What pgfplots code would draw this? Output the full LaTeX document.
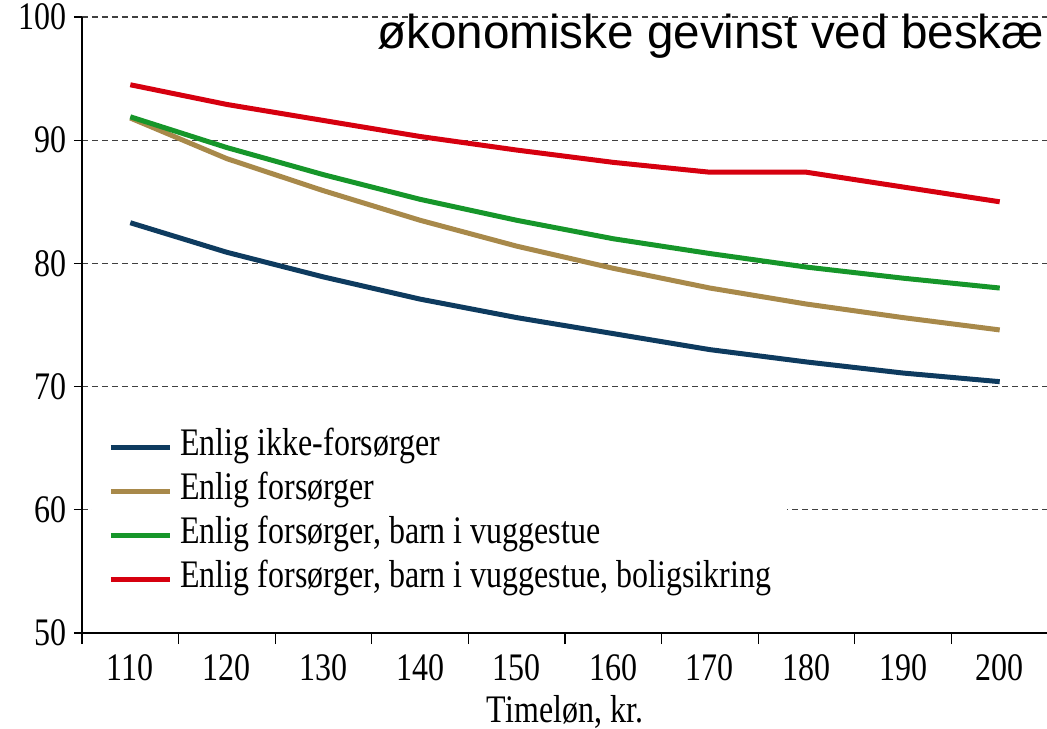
\documentclass[border=0pt]{standalone}
\usepackage{fontspec}
\setmainfont{Liberation Serif}[FakeStretch=0.82]
\newfontfamily\titlefont{Liberation Sans}
\usepackage{pgfplots}
\pgfplotsset{compat=1.18}
\definecolor{cNavy}{HTML}{0E3B5F}
\definecolor{cTan}{HTML}{A8894A}
\definecolor{cGreen}{HTML}{16962A}
\definecolor{cRed}{HTML}{D6000F}
\definecolor{cGrid}{HTML}{404040}
\begin{document}
\begin{tikzpicture}
\begin{axis}[
  at={(0pt,0pt)}, anchor=south west,
  scale only axis,
  width=483pt, height=308pt,
  xmin=-0.5, xmax=9.5,
  ymin=50, ymax=100,
  axis lines*=left,
  axis line style={black, line width=0.6pt},
  tick align=outside,
  xtick={0,...,9},
  xticklabels={110,120,130,140,150,160,170,180,190,200},
  major x tick style={draw=none},
  minor xtick={-0.5,0.5,...,9.5},
  minor tick length=5.5pt,
  minor x tick style={black, line width=0.6pt},
  ytick={50,60,...,100},
  major tick length=4pt,
  y tick style={black, line width=0.6pt},
  ymajorgrids,
  grid style={cGrid, dashed, dash pattern=on 3pt off 2pt, line width=0.6pt},
  /pgf/number format/assume math mode=true,
  ticklabel style={font=\fontsize{19.5}{23}\selectfont},
  xticklabel style={yshift=-3pt},
  xlabel={Timeløn, kr.},
  xlabel style={font=\fontsize{19.5}{23}\selectfont, yshift=-0.5pt},
  legend image code/.code={\draw[#1, line width=2.5pt] (0pt,0pt) -- (29.5pt,0pt);},
  legend cell align=left,
  legend style={
    at={(rel axis cs:0.0104,0.048)}, anchor=south west,
    draw=none, fill=white,
    inner xsep=8pt, inner ysep=4pt,
    font=\fontsize{19.5}{22}\selectfont,
    row sep=6pt, column sep=4pt,
    nodes={inner sep=0pt, text height=12pt, text depth=4pt},
  },
]
\addplot[cNavy, line width=2.5pt] coordinates {(0,83.3) (1,80.9) (2,78.9) (3,77.1) (4,75.6) (5,74.3) (6,73.0) (7,72.0) (8,71.1) (9,70.4)};
\addlegendentry{Enlig ikke-forsørger}
\addplot[cTan, line width=2.5pt] coordinates {(0,91.8) (1,88.5) (2,85.9) (3,83.5) (4,81.4) (5,79.6) (6,78.0) (7,76.7) (8,75.6) (9,74.6)};
\addlegendentry{Enlig forsørger}
\addplot[cGreen, line width=2.5pt] coordinates {(0,91.9) (1,89.4) (2,87.2) (3,85.2) (4,83.5) (5,82.0) (6,80.8) (7,79.7) (8,78.8) (9,78.0)};
\addlegendentry{Enlig forsørger, barn i vuggestue}
\addplot[cRed, line width=2.5pt] coordinates {(0,94.5) (1,92.9) (2,91.6) (3,90.3) (4,89.2) (5,88.2) (6,87.4) (7,87.4) (8,86.2) (9,85.0)};
\addlegendentry{Enlig forsørger, barn i vuggestue, boligsikring}
\end{axis}
\node[anchor=base west, inner sep=0pt, font=\titlefont\fontsize{23.8}{28}\selectfont] at (147.5pt,292pt) {økonomiske gevinst ved beskæ};
\pgfresetboundingbox
\path[use as bounding box] (-41pt,-47.5pt) rectangle (482.5pt,316.5pt);
\end{tikzpicture}
\end{document}
